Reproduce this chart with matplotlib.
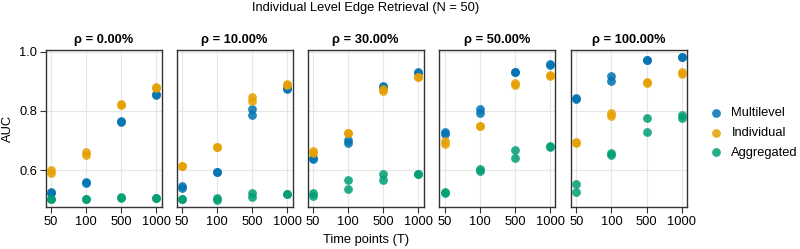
import matplotlib.pyplot as plt
import numpy as np

plt.rcParams['font.family'] = ['Liberation Sans', 'DejaVu Sans']

# data: two runs per time point, per method, per rho
rhos = ['0.00', '10.00', '30.00', '50.00', '100.00']
time_points = ['50', '100', '500', '1000']
methods = ['Multilevel', 'Individual', 'Aggregated']
colors = ['#0072B2', '#E69F00', '#009E73']

multilevel = [
    [[0.525, 0.522], [0.559, 0.557], [0.765, 0.764], [0.857, 0.855]],
    [[0.547, 0.538], [0.593, 0.592], [0.807, 0.787], [0.876, 0.874]],
    [[0.641, 0.636], [0.701, 0.691], [0.884, 0.882], [0.931, 0.928]],
    [[0.727, 0.722], [0.806, 0.793], [0.932, 0.931], [0.960, 0.955]],
    [[0.844, 0.840], [0.918, 0.902], [0.972, 0.971], [0.983, 0.981]],
]
individual = [
    [[0.599, 0.591], [0.661, 0.651], [0.822, 0.821], [0.880, 0.879]],
    [[0.615, 0.614], [0.679, 0.677], [0.848, 0.834], [0.892, 0.887]],
    [[0.665, 0.659], [0.726, 0.725], [0.873, 0.869], [0.916, 0.913]],
    [[0.698, 0.687], [0.750, 0.749], [0.895, 0.886], [0.923, 0.918]],
    [[0.696, 0.693], [0.792, 0.783], [0.897, 0.896], [0.931, 0.924]],
]
aggregated = [
    [[0.503, 0.502], [0.502, 0.501], [0.508, 0.505], [0.505, 0.504]],
    [[0.503, 0.502], [0.507, 0.497], [0.522, 0.510], [0.520, 0.519]],
    [[0.522, 0.512], [0.565, 0.535], [0.588, 0.565], [0.588, 0.586]],
    [[0.527, 0.522], [0.603, 0.597], [0.668, 0.640], [0.683, 0.678]],
    [[0.553, 0.527], [0.659, 0.651], [0.777, 0.730], [0.787, 0.775]],
]
series = [multilevel, individual, aggregated]

W, H = 800, 249
fig = plt.figure(figsize=(W / 100, H / 100), dpi=100)

lefts = [45.7, 176.5, 307.5, 439.3, 571.0]
ax_w = 116.0
top_px, bot_px = 50.0, 207.3
fs = 9.3

x = np.arange(1, len(time_points) + 1)
axes = []
for p, left in enumerate(lefts):
    ax = fig.add_axes([left / W, 1 - bot_px / H, ax_w / W, (bot_px - top_px) / H])
    axes.append(ax)
    for m in range(len(methods)):
        vals = np.array(series[m][p])
        for r in range(vals.shape[1]):
            ax.scatter(x, vals[:, r], s=40, color=colors[m], alpha=0.85,
                       linewidths=0, zorder=3,
                       label=methods[m] if (p == 0 and r == 0) else None)
    ax.set_xlim(0.85, 4.15)
    ax.set_ylim(0.474, 1.006)
    ax.set_xticks(x)
    ax.set_xticklabels(time_points)
    ax.set_yticks([0.6, 0.8, 1.0])
    ax.grid(True, color='#e6e6e6', linewidth=0.8, zorder=0)
    ax.set_axisbelow(True)
    for s in ax.spines.values():
        s.set_linewidth(1.0)
        s.set_color('#333333')
    ax.tick_params(axis='x', length=4, width=0.8, labelsize=fs, pad=2, color='#333333')
    if p == 0:
        ax.tick_params(axis='y', length=4, width=0.8, labelsize=fs, pad=2, color='#333333')
        ax.set_ylabel('AUC', fontsize=fs, labelpad=4)
    else:
        ax.tick_params(axis='y', length=0, labelleft=False)
    ax.set_title(f'ρ = {rhos[p]}%', fontsize=fs, fontweight='bold', pad=5)

fig.text(366 / W, 1 - 240 / H, 'Time points (T)', ha='center', va='center', fontsize=fs)
fig.text(366 / W, 1 - 8 / H, 'Individual Level Edge Retrieval (N = 50)',
         ha='center', va='center', fontsize=fs)

handles, labels = axes[0].get_legend_handles_labels()
fig.legend(handles, labels, loc='center left', bbox_to_anchor=(694 / W, 1 - 133 / H),
           frameon=False, fontsize=fs, handletextpad=0.2, labelspacing=0.6,
           markerscale=1.0, borderpad=0.2)

fig.savefig('out.png', dpi=100)
